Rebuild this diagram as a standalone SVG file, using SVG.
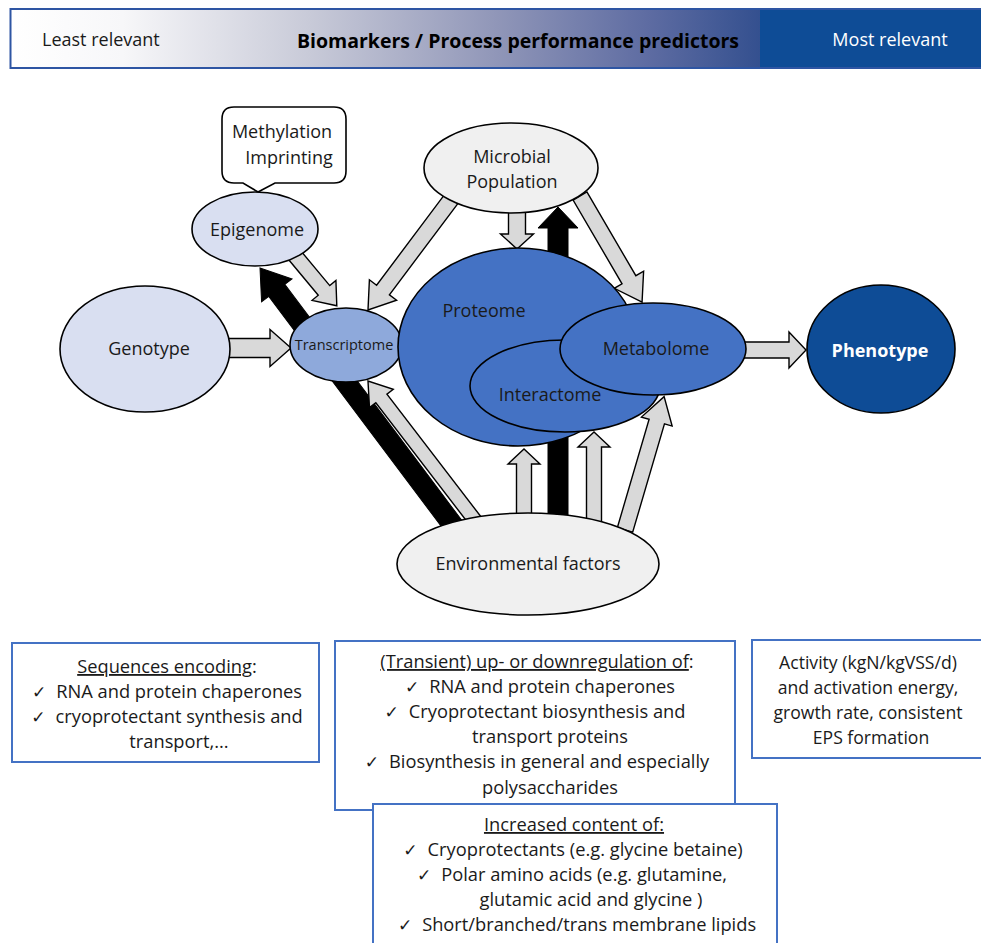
<svg xmlns="http://www.w3.org/2000/svg" width="981" height="943" viewBox="0 0 981 943">
<defs>
<linearGradient id="hdr" gradientUnits="userSpaceOnUse" x1="10" y1="0" x2="760" y2="0">
<stop offset="0" stop-color="#FFFFFF"/>
<stop offset="0.15" stop-color="#F7F7F9"/>
<stop offset="0.4" stop-color="#C8CAD8"/>
<stop offset="0.65" stop-color="#9096B8"/>
<stop offset="0.85" stop-color="#5E6CA2"/>
<stop offset="1" stop-color="#34508F"/>
</linearGradient>
<style>
text{font-family:"Open Sans","Liberation Sans",sans-serif;fill:#1a1a1a}
.n{font-size:18px;text-anchor:middle}
.b{font-size:18.3px;text-anchor:middle}
.c{font-size:17.6px;text-anchor:middle}
.node{stroke:#000;stroke-width:1.6}
.ga{fill:#D9D9D9;stroke:#000;stroke-width:1.4;stroke-linejoin:miter}
.ba{fill:#000;stroke:#000;stroke-width:1}
.box{fill:#fff;stroke:#4472C4;stroke-width:2}
.u{text-decoration:underline}
.k{font-family:"DejaVu Sans",sans-serif;font-size:17px}
</style>
</defs>
<rect width="981" height="943" fill="#fff"/>

<g id="header">
<rect x="10" y="9" width="760" height="59" fill="url(#hdr)"/>
<rect x="760" y="9" width="225" height="59" fill="#0E4C96"/>
<path d="M985,9 H10.5 V68 H985" fill="none" stroke="#2E55A3" stroke-width="2"/>
<text x="42" y="46" style="font-size:18px">Least relevant</text>
<text x="518" y="48" style="font-size:19.5px;font-weight:bold;text-anchor:middle;fill:#000">Biomarkers / Process performance predictors</text>
<text x="890" y="46" style="font-size:18px;text-anchor:middle;fill:#fff">Most relevant</text>
</g>

<g id="connectors">
<polygon class="ba" transform="translate(458,532) rotate(-126.87)" points="0,-10 302,-10 302,-19 330,0 302,19 302,10 0,10"/>
<polygon class="ba" transform="translate(558,530) rotate(-90)" points="0,-10 302,-10 302,-20 323,0 302,20 302,10 0,10"/>
<polygon class="ga" transform="translate(226,348)" points="0,-9.5 44,-9.5 44,-18.5 65,0 44,18.5 44,9.5 0,9.5"/>
<polygon class="ga" transform="translate(742,350)" points="0,-8 47,-8 47,-18 64,0 47,18 47,8 0,8"/>
<polygon class="ga" transform="translate(292,252) rotate(50.2)" points="0,-7.5 50,-7.5 50,-15.5 70,0 50,15.5 50,7.5 0,7.5"/>
<polygon class="ga" transform="translate(452,198) rotate(126.87)" points="0,-8 115,-8 115,-17 140,0 115,17 115,8 0,8"/>
<polygon class="ga" transform="translate(480,527) rotate(-127.5)" points="0,-7 162,-7 162,-15 184,0 162,15 162,7 0,7"/>
<polygon class="ga" transform="translate(517,200) rotate(90)" points="0,-8.5 34,-8.5 34,-16.5 49,0 34,16.5 34,8.5 0,8.5"/>
<polygon class="ga" transform="translate(580,196) rotate(59.7)" points="0,-8 97,-8 97,-17 123,0 97,17 97,8 0,8"/>
<polygon class="ga" transform="translate(524,525) rotate(-90)" points="0,-7.5 61,-7.5 61,-16 76,0 61,16 61,7.5 0,7.5"/>
<polygon class="ga" transform="translate(594,528) rotate(-90)" points="0,-7.5 81,-7.5 81,-16 96,0 81,16 81,7.5 0,7.5"/>
<polygon class="ga" transform="translate(625,530) rotate(-73.66)" points="0,-8 113,-8 113,-16 139,0 113,16 113,8 0,8"/>
</g>

<g id="methylation">
<path class="node" fill="#fff" d="M234,107 H334 Q346,107 346,119 V171 Q346,183 334,183 H275 L258,192 L243,183 H234 Q222,183 222,171 V119 Q222,107 234,107 Z"/>
<text class="n" x="282" y="138">Methylation</text>
<text class="n" x="289" y="164">Imprinting</text>
</g>

<g id="genotype">
<ellipse class="node" cx="145" cy="349" rx="85" ry="63" fill="#D9DFF1"/>
<text class="n" x="149" y="355">Genotype</text>
</g>

<g id="epigenome">
<ellipse class="node" cx="255" cy="229" rx="63" ry="37" fill="#D9DFF1"/>
<text class="n" x="257" y="236">Epigenome</text>
</g>

<g id="transcriptome">
<ellipse class="node" cx="346" cy="345" rx="56" ry="37" fill="#8EA9DB"/>
<text x="344" y="350" style="font-size:14.5px;text-anchor:middle">Transcriptome</text>
</g>

<g id="proteome">
<ellipse class="node" cx="518" cy="347" rx="120" ry="99" fill="#4472C4"/>
<text class="n" x="484" y="317">Proteome</text>
</g>

<g id="interactome">
<ellipse class="node" cx="565" cy="386" rx="95" ry="46" fill="#4472C4"/>
<text class="n" x="550" y="401">Interactome</text>
</g>

<g id="metabolome">
<ellipse class="node" cx="653" cy="349" rx="93" ry="46" fill="#4472C4"/>
<text class="n" x="656" y="355">Metabolome</text>
</g>

<g id="phenotype">
<ellipse class="node" cx="881" cy="349" rx="74" ry="64" fill="#0E4C96"/>
<text class="n" x="880" y="357" style="font-weight:bold;fill:#fff">Phenotype</text>
</g>

<g id="microbial">
<ellipse class="node" cx="511" cy="168" rx="87" ry="45" fill="#F0F0F0"/>
<text class="n" x="512" y="163">Microbial</text>
<text class="n" x="512" y="188">Population</text>
</g>

<g id="environment">
<ellipse class="node" cx="528" cy="564" rx="131" ry="51" fill="#F0F0F0"/>
<text class="n" x="528" y="570">Environmental factors</text>
</g>

<g id="box-genome">
<rect class="box" x="12" y="643" width="307" height="119"/>
<text class="b" x="167" y="673"><tspan class="u">Sequences encoding</tspan>:</text>
<text class="b" x="167" y="698"><tspan class="k">✓</tspan><tspan dx="10">RNA and protein chaperones</tspan></text>
<text class="b" x="167" y="723"><tspan class="k">✓</tspan><tspan dx="10">cryoprotectant synthesis and</tspan></text>
<text class="b" x="179" y="748">transport,...</text>
</g>

<g id="box-regulation">
<rect class="box" x="335" y="641" width="400" height="169"/>
<text class="b" x="537" y="668"><tspan class="u">(Transient) up- or downregulation of</tspan>:</text>
<text class="b" x="540" y="693"><tspan class="k">✓</tspan><tspan dx="10">RNA and protein chaperones</tspan></text>
<text class="b" x="535" y="718"><tspan class="k">✓</tspan><tspan dx="10">Cryoprotectant biosynthesis and</tspan></text>
<text class="b" x="550" y="743">transport proteins</text>
<text class="b" x="537" y="768"><tspan class="k">✓</tspan><tspan dx="10">Biosynthesis in general and especially</tspan></text>
<text class="b" x="550" y="794">polysaccharides</text>
</g>

<g id="box-content">
<rect class="box" x="373" y="804" width="404" height="150"/>
<text class="b" x="574" y="831"><tspan class="u">Increased content of:</tspan></text>
<text class="b" x="573" y="856"><tspan class="k">✓</tspan><tspan dx="10">Cryoprotectants (e.g. glycine betaine)</tspan></text>
<text class="b" x="572" y="881"><tspan class="k">✓</tspan><tspan dx="10">Polar amino acids (e.g. glutamine,</tspan></text>
<text class="b" x="591" y="906">glutamic acid and glycine )</text>
<text class="b" x="577" y="931"><tspan class="k">✓</tspan><tspan dx="10">Short/branched/trans membrane lipids</tspan></text>
</g>

<g id="box-phenotype">
<rect class="box" x="752" y="640" width="240" height="118"/>
<text class="c" x="868" y="669">Activity (kgN/kgVSS/d)</text>
<text class="c" x="868" y="694">and activation energy,</text>
<text class="c" x="868" y="719">growth rate, consistent</text>
<text class="c" x="871" y="744">EPS formation</text>
</g>
</svg>
